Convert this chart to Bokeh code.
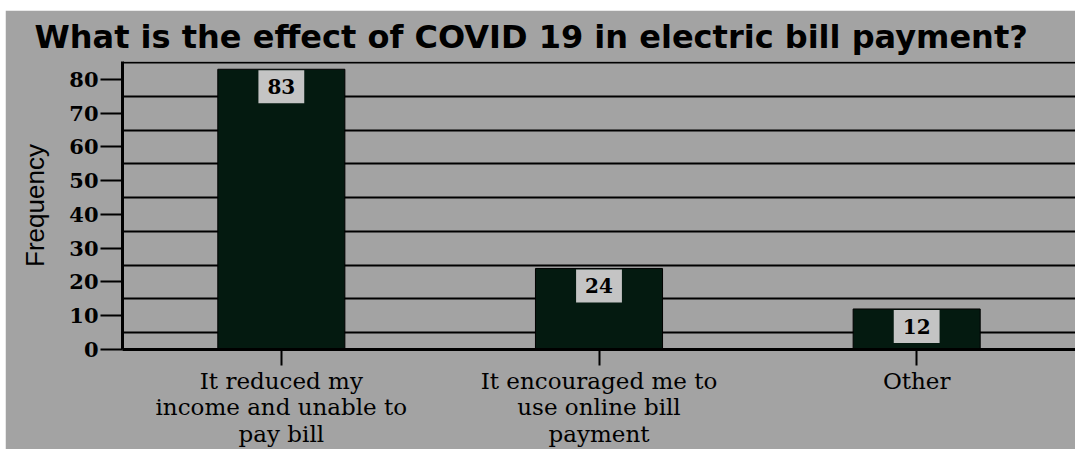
from bokeh.plotting import figure
from bokeh.models import FactorRange, Range1d, FixedTicker, ColumnDataSource
from bokeh.core.properties import value
from bokeh.embed import file_html
from bokeh.resources import INLINE

# ---- data ----
categories = [
    "It reduced my\nincome and unable to\npay bill",
    "It encouraged me to\nuse online bill\npayment",
    "Other",
]
frequency = [83, 24, 12]
y_ticks = [0, 10, 20, 30, 40, 50, 60, 70, 80]
grid_levels = [5, 15, 25, 35, 45, 55, 65, 75, 85]
title_text = "What is the effect of COVID 19 in electric bill payment?"

BG = "#a3a3a3"
BAR = "#041a10"

p = figure(
    x_range=FactorRange(factors=categories, range_padding=0),
    y_range=Range1d(0, 85.3),
    width=1070, height=439,
    margin=(10, 0, 0, 5),
    output_backend="svg", toolbar_location=None,
    min_border_left=117, min_border_right=0,
    min_border_top=51, min_border_bottom=99,
    title=title_text,
)
p.background_fill_color = BG
p.border_fill_color = BG
p.outline_line_color = None

p.title.text_font = "DejaVu Sans"
p.title.text_font_style = "bold"
p.title.text_font_size = "32px"
p.title.text_color = "#000000"
p.title.align = "left"
p.title.offset = -88
p.title.standoff = 11

p.xgrid.grid_line_color = None
p.ygrid.ticker = FixedTicker(ticks=grid_levels)
p.ygrid.grid_line_color = "#000000"
p.ygrid.grid_line_width = 2
p.ygrid.grid_line_alpha = 1

src = ColumnDataSource(dict(x=categories, top=frequency, label=[str(v) for v in frequency]))
p.vbar(x="x", top="top", width=0.4, source=src, fill_color=BAR, line_color="#000000", line_width=1)
p.text(x="x", y="top", text="label", source=src,
       text_font=value("DejaVu Serif"), text_font_style="bold", text_font_size="20px",
       text_align="center", text_baseline="top", y_offset=1, text_color="#000000",
       background_fill_color="#c4c4c4",
       padding=dict(left=9, right=9, top=9, bottom=9))

ya = p.yaxis[0]
ya.ticker = FixedTicker(ticks=y_ticks)
ya.axis_line_width = 3
ya.axis_line_color = "#000000"
ya.major_tick_out = 22
ya.major_tick_in = 0
ya.major_tick_line_width = 2
ya.minor_tick_line_color = None
ya.major_label_text_font = "DejaVu Serif"
ya.major_label_text_font_style = "bold"
ya.major_label_text_font_size = "21px"
ya.major_label_text_color = "#000000"
ya.major_label_standoff = 2
ya.axis_label = "Frequency"
ya.axis_label_text_font = "Liberation Sans"
ya.axis_label_text_font_style = "normal"
ya.axis_label_text_font_size = "26px"
ya.axis_label_text_color = "#000000"
ya.axis_label_standoff = 16

xa = p.xaxis[0]
xa.axis_line_width = 3
xa.axis_line_color = "#000000"
xa.major_tick_out = 16
xa.major_tick_in = 0
xa.major_tick_line_width = 2
xa.major_label_text_font = "DejaVu Serif"
xa.major_label_text_font_size = "23px"
xa.major_label_text_line_height = 1.02
xa.major_label_text_color = "#000000"
xa.major_label_standoff = 2

open("out.html", "w").write(file_html(p, INLINE))
